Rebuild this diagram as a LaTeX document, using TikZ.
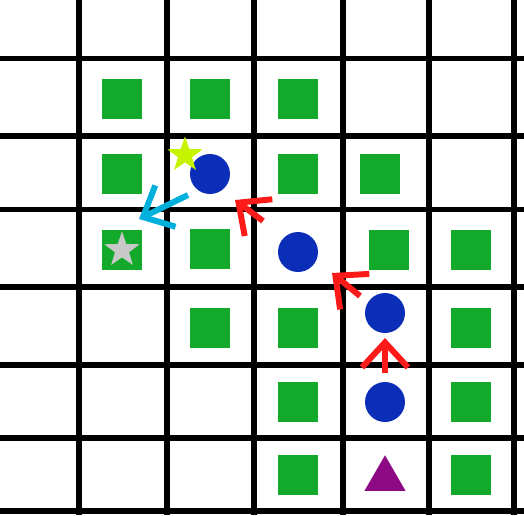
\documentclass[tikz,border=0pt]{standalone}
\usepackage{tikz}
\usetikzlibrary{shapes.geometric,arrows.meta}
\definecolor{goalgreen}{HTML}{13AA2B}
\definecolor{agentblue}{HTML}{0A2EB8}
\definecolor{steprred}{HTML}{FF1A1A}
\definecolor{jumpcyan}{HTML}{00B0DC}
\definecolor{lime}{HTML}{C6F400}
\definecolor{stargray}{HTML}{C8C8C8}
\definecolor{startpurple}{HTML}{8E0A84}
\begin{document}
\begin{tikzpicture}[x=0.02cm,y=-0.02cm,
    wall/.style={line width=3.4pt},
    goal/.style={fill=goalgreen,minimum size=0.8cm,inner sep=0pt},
    agent/.style={circle,fill=agentblue,minimum size=0.8cm,inner sep=0pt},
    prize/.style={star,star points=5,star point ratio=2.5,minimum size=0.74cm,inner sep=0pt},
    move/.style={line width=3.4pt,-{Straight Barb[length=0.5cm,width=0.92cm,line width=3.4pt]}}]
    \useasboundingbox (0,0) rectangle (524,515);
    \foreach \x in {79,167,254,343,429,514} \draw[wall] (\x,0) -- (\x,515);
    \foreach \y in {58.5,136,209.5,287,365,438,511} \draw[wall] (0,\y) -- (524,\y);
    \foreach \x/\y [count=\i] in {122/99,210/99,298/99,
        122/174,298/174,380/174,
        122/250,210/249,389/250,471/250,
        210/328,298/328,471/328,
        298/402,471/402,
        298/475,471/475}
        \node[goal] (g\i) at (\x,\y) {};
    \node[agent] (a1) at (385,402) {};
    \node[agent] (a2) at (385,313) {};
    \node[agent] (a3) at (298,252) {};
    \node[agent] (a4) at (210,174) {};
    \node[prize,fill=lime] (s1) at (185,155) {};
    \node[prize,fill=stargray] (s2) at (122,250) {};
    \node[regular polygon,regular polygon sides=3,fill=startpurple,minimum size=0.95cm,inner sep=0pt] (t) at (385,479) {};
    \coordinate (m1a) at (385,373);
    \coordinate (m1b) at (385,338);
    \coordinate (m2a) at (360,296);
    \coordinate (m2b) at (332,273);
    \coordinate (m3a) at (263,221);
    \coordinate (m3b) at (235,200);
    \coordinate (j1a) at (188,195);
    \coordinate (j1b) at (139,219);
    \draw[move,steprred] (m1a) -- (m1b);
    \draw[move,steprred] (m2a) -- (m2b);
    \draw[move,steprred] (m3a) -- (m3b);
    \draw[move,jumpcyan] (j1a) -- (j1b);
\end{tikzpicture}
\end{document}
